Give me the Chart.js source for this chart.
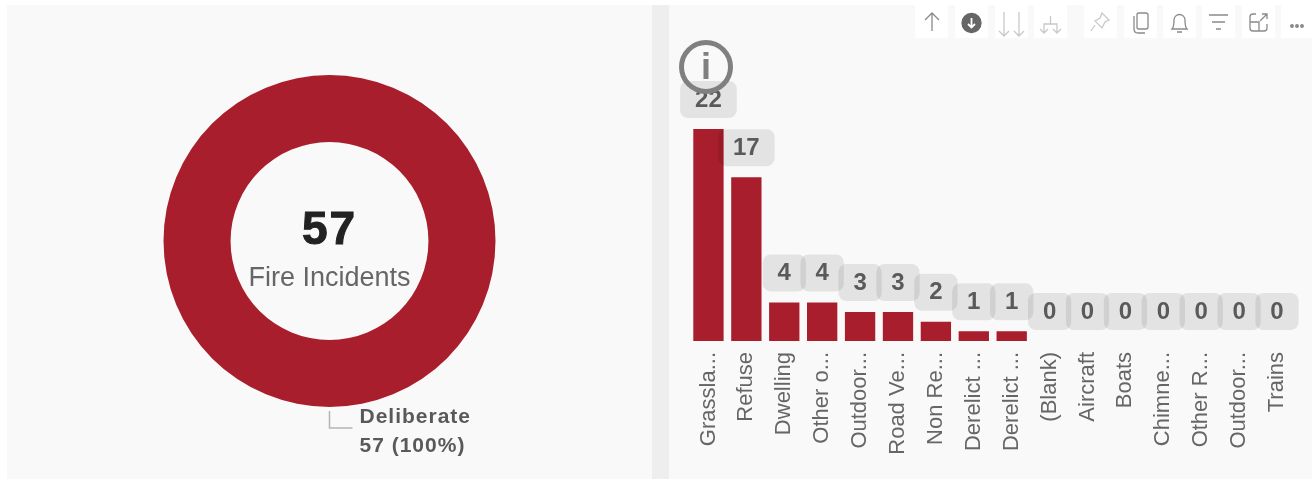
<!DOCTYPE html>
<html>
<head>
<meta charset="utf-8">
<title>Fire Incidents</title>
<script src="https://cdn.jsdelivr.net/npm/chart.js@4/dist/chart.umd.min.js"></script>
<style>
  html, body { margin: 0; padding: 0; background: #fff; overflow: hidden; }
  body { width: 1312px; height: 482px; position: relative; font-family: "Liberation Sans", Arial, sans-serif; }
  .panel { position: absolute; top: 5px; height: 474px; background: #f9f9f9; }
  #left { left: 7px; width: 645px; }
  #gap { position: absolute; left: 652px; top: 5px; width: 17px; height: 474px; background: #eeeeee; }
  #right { left: 669px; width: 643px; }
  canvas { position: absolute; left: 0; top: 0; }
  .btn { position: absolute; top: 5px; width: 33px; height: 33px; background: #fff; }
  .btn svg { width: 33px; height: 33px; display: block; fill: none; stroke: #8a8a8a; stroke-width: 1.3; }
  .btn.off svg { stroke: #c9c9c9; }
  #info { position: absolute; left: 679px; top: 40px; width: 44px; height: 44px; border: 5px solid #808080; border-radius: 50%; text-align: center;
    line-height: 44px; font-size: 36px; font-weight: bold; color: #808080; }
</style>
</head>
<body>
<div class="panel" id="left"><canvas id="donut"></canvas></div>
<div id="gap"></div>
<div class="panel" id="right"><canvas id="bars"></canvas></div>

<div id="info">i</div>

<div class="btn" style="left:915px"><svg viewBox="0 0 33 33"><path d="M17 26V9M10 15l7-7 7 7"/></svg></div>
<div class="btn" style="left:955px"><svg viewBox="0 0 33 33"><circle cx="16.5" cy="18" r="9.5" fill="#666" stroke="#666"/><path d="M16.5 13v9M13 19l3.5 3.5L20 19" stroke="#fff" stroke-width="1.8"/></svg></div>
<div class="btn off" style="left:995px"><svg viewBox="0 0 33 33"><path d="M9 7v24M4 26l5 5 5-5M24 7v24M19 26l5 5 5-5"/></svg></div>
<div class="btn off" style="left:1034px"><svg viewBox="0 0 33 33"><path d="M16.5 11v8M10 28v-9h13v9M6 24l4 4 4-4M19 24l4 4 4-4"/></svg></div>
<div class="btn off" style="left:1084px"><svg viewBox="0 0 33 33"><path d="M18 8l7 7-4 2-3 6-7-7 5-3zM11 20l-4 6"/></svg></div>
<div class="btn" style="left:1124px"><svg viewBox="0 0 33 33"><rect x="13" y="8" width="11" height="16" rx="2"/><path d="M10 11v13c0 3 2 4 4 4h7"/></svg></div>
<div class="btn" style="left:1163px"><svg viewBox="0 0 33 33"><path d="M9 24c2-2 2-5 2-9a5.500 5.500 0 0 1 11 0c0 4 0 7 2 9zM14 27h5"/></svg></div>
<div class="btn" style="left:1202px"><svg viewBox="0 0 33 33"><path d="M7 10h19M10 17h13M14 24h5"/></svg></div>
<div class="btn" style="left:1242px"><svg viewBox="0 0 33 33"><path d="M14 9H11a3 3 0 0 0-3 3v11a3 3 0 0 0 3 3h11a3 3 0 0 0 3-3v-4M8 17h9v9M18 16l7-7M20 9h5v5"/></svg></div>
<div class="btn" style="left:1281px"><svg viewBox="0 0 33 33"><circle cx="11" cy="21" r="1.300" fill="#8a8a8a"/><circle cx="16" cy="21" r="1.300" fill="#8a8a8a"/><circle cx="21" cy="21" r="1.300" fill="#8a8a8a"/></svg></div>

<script>
// donut values
const causeLabels = ['Deliberate'];
const causeValues = [57];
const centerTitle = 'Fire Incidents';

// bar values
const typeLabels = ['Grassla...', 'Refuse', 'Dwelling', 'Other o...', 'Outdoor...', 'Road Ve...', 'Non Re...', 'Derelict ...', 'Derelict ...',
    '(Blank)', 'Aircraft', 'Boats', 'Chimne...', 'Other R...', 'Outdoor...', 'Trains'];
const typeValues = [22, 17, 4, 4, 3, 3, 2, 1, 1, 0, 0, 0, 0, 0, 0, 0];

const RED = '#a91e2c';
const FONT = '"Liberation Sans", Arial, sans-serif';

function sizeCanvas(id, w, h) {
    const c = document.getElementById(id);
    c.style.width = w + 'px';
    c.style.height = h + 'px';
    c.width = w;
    c.height = h;
    return c;
}

// center text and leader label of the donut
const donutText = {
    id: 'donutText',
    afterDraw(chart) {
        const ctx = chart.ctx;
        const arc = chart.getDatasetMeta(0).data[0];
        const total = causeValues.reduce((a, b) => a + b, 0);
        ctx.save();
        ctx.textAlign = 'center';
        ctx.textBaseline = 'middle';
        ctx.fillStyle = '#222';
        ctx.strokeStyle = '#222';
        ctx.lineWidth = 1;
        ctx.letterSpacing = '2px';
        ctx.font = 'bold 46px ' + FONT;
        ctx.fillText(String(total), arc.x, arc.y - 10);
        ctx.strokeText(String(total), arc.x, arc.y - 10);
        ctx.letterSpacing = '0px';
        ctx.fillStyle = '#666';
        ctx.font = '27px ' + FONT;
        ctx.fillText(centerTitle, arc.x, arc.y + 38);

        // leader line
        const lx = arc.x, ly = arc.y + arc.outerRadius;
        ctx.strokeStyle = '#b5b5b5';
        ctx.lineWidth = 1.5;
        ctx.beginPath();
        ctx.moveTo(lx, ly + 4);
        ctx.lineTo(lx, ly + 21);
        ctx.lineTo(lx + 23, ly + 21);
        ctx.stroke();

        ctx.textAlign = 'left';
        ctx.fillStyle = '#595959';
        ctx.letterSpacing = '1px';
        ctx.font = 'bold 21px ' + FONT;
        ctx.fillText(causeLabels[0], lx + 30, ly + 10);
        ctx.fillText(causeValues[0] + ' (' + Math.round(causeValues[0] / total * 100) + '%)', lx + 30, ly + 39);
        ctx.restore();
    }
};

new Chart(sizeCanvas('donut', 645, 472), {
    type: 'doughnut',
    data: {
        labels: causeLabels,
        datasets: [{
            data: causeValues,
            backgroundColor: RED,
            borderWidth: 0
        }]
    },
    options: {
        responsive: false,
        animation: false,
        radius: 166,
        cutout: '59.6%',
        layout: { padding: 0 },
        plugins: { legend: { display: false }, tooltip: { enabled: false } }
    },
    plugins: [donutText]
});

// grey pill with the value above each bar, width follows the text
const pillLabels = {
    id: 'pillLabels',
    afterDatasetsDraw(chart) {
        const ctx = chart.ctx;
        ctx.save();
        ctx.font = 'bold 24px ' + FONT;
        ctx.textAlign = 'center';
        ctx.textBaseline = 'middle';
        chart.getDatasetMeta(0).data.forEach((bar, i) => {
            const text = String(typeValues[i]);
            const half = ctx.measureText(text).width / 2 + 15;
            ctx.fillStyle = 'rgba(0,0,0,0.085)';
            ctx.beginPath();
            ctx.roundRect(bar.x - half, bar.y - 48, half * 2, 37, 8);
            ctx.fill();
            ctx.fillStyle = '#5a5a5a';
            ctx.fillText(text, bar.x, bar.y - 29);
        });
        ctx.restore();
    }
};

new Chart(sizeCanvas('bars', 643, 474), {
    type: 'bar',
    data: {
        labels: typeLabels,
        datasets: [{
            data: typeValues,
            backgroundColor: RED,
            borderWidth: 0,
            barPercentage: 0.8,
            categoryPercentage: 1
        }]
    },
    options: {
        responsive: false,
        animation: false,
        layout: { padding: { left: 20.5, right: 16, top: 124, bottom: 0 } },
        plugins: { legend: { display: false }, tooltip: { enabled: false } },
        scales: {
            x: {
                grid: { display: false },
                border: { display: false },
                afterFit(scale) { scale.height = 138; },
                ticks: {
                    autoSkip: false,
                    minRotation: 90,
                    maxRotation: 90,
                    padding: 3,
                    color: '#666',
                    font: { family: FONT, size: 22 }
                }
            },
            y: {
                display: false,
                min: 0,
                max: 22
            }
        }
    },
    plugins: [pillLabels]
});
</script>
</body>
</html>
